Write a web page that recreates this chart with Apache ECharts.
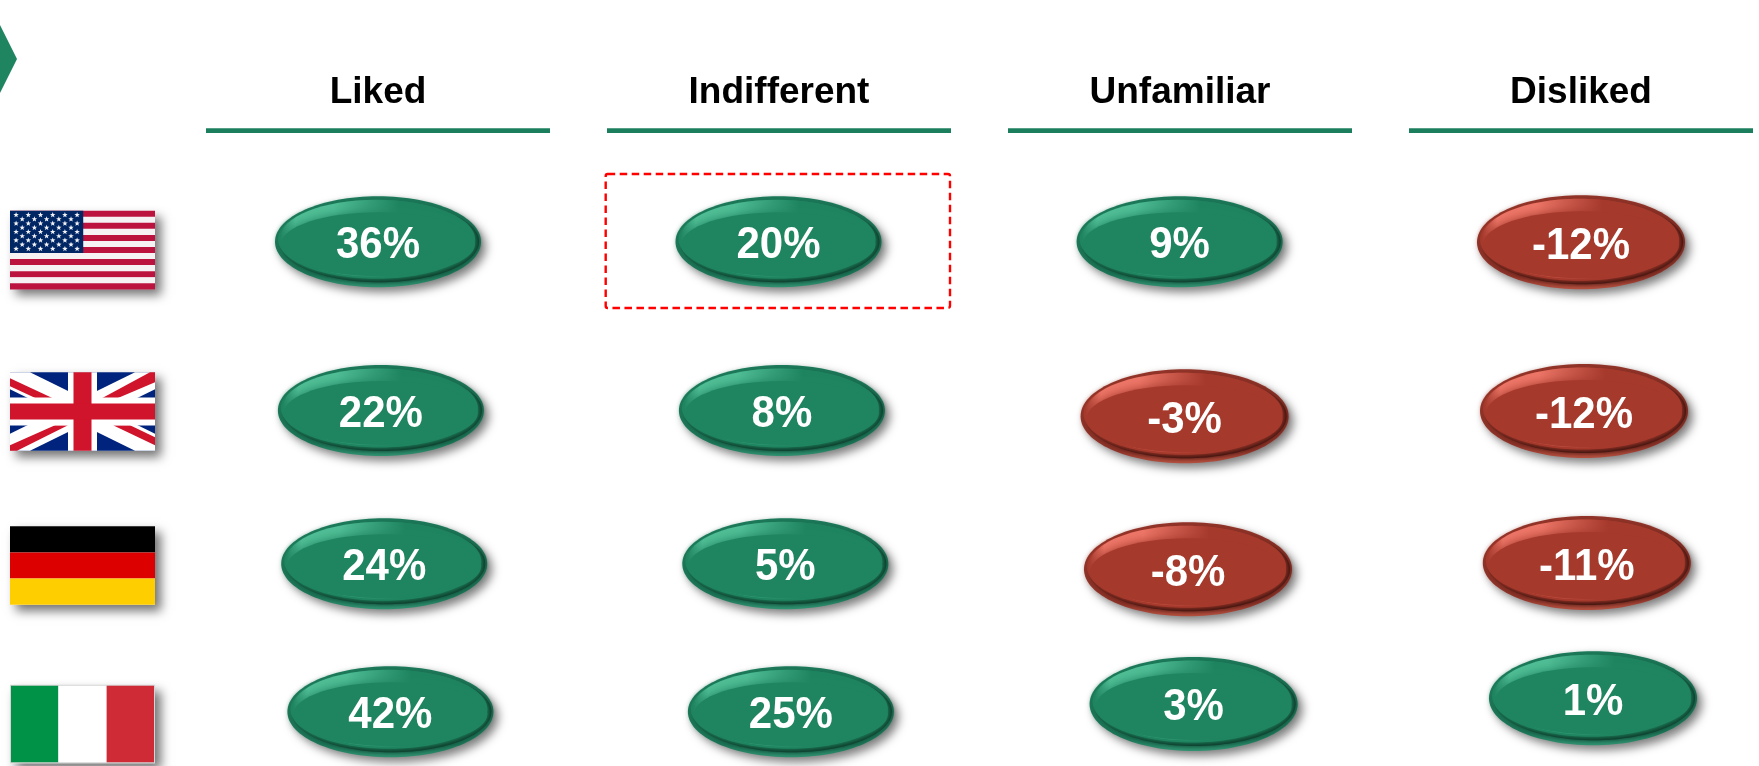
<!DOCTYPE html>
<html>
<head>
<meta charset="utf-8">
<style>html,body{margin:0;padding:0;background:#fff}#chart{width:1759px;height:766px}</style>
<script src="https://cdn.jsdelivr.net/npm/echarts@6/dist/echarts.min.js"></script>
</head>
<body>
<div id="chart"></div>
<script>
// Survey outcome per country, in percentage points
const attitudes = ['Liked', 'Indifferent', 'Unfamiliar', 'Disliked'];
const countries = ['United States', 'United Kingdom', 'Germany', 'Italy'];
const liked = [36, 22, 24, 42];
const indifferent = [20, 8, 5, 25];
const unfamiliar = [9, -3, -8, 3];
const disliked = [-12, -12, -11, 1];
const highlightedCell = ['Indifferent', 'United States'];

// Hand placement of each badge relative to its grid cell, in pixels [dx, dy]
const cellNudges = [
  [[0, 0], [2.9, 12.2], [6.2, 8.6], [12.4, 0]],
  [[-0.5, 0], [2.9, 12.2], [6.3, 8.6], [11.9, 0]],
  [[-0.4, 0], [4.6, 17.8], [8, 14.2], [13.6, -7.9]],
  [[0, 0.6], [3, 12.7], [5.8, 8], [12, -13.5]]
];
const flagNudges = [8.3, 13.1, 10.4, 12.2];

const GREEN = {
  face: '#1f8560', lip: '#2f9270', rim: '#1a7757', tone: '#1e8460', dark: '#0a3325', glow: '#4fbd95'
};
const RED = {
  face: '#a5392c', lip: '#b5503f', rim: '#8f3227', tone: '#a5392c', dark: '#340f0a', glow: '#ec7566'
};

const columns = [liked, indifferent, unfamiliar, disliked];
const badgeData = [];
columns.forEach((values, c) => values.forEach((v, r) => badgeData.push([c, r, v])));

function renderBadge(params, api) {
  const c = api.value(0), r = api.value(1), v = api.value(2);
  const base = api.coord([c, r]);
  const n = cellNudges[c][r];
  const negative = v < 0;
  const pal = v >= 0 ? GREEN : RED;
  // The lower badges in the right-hand columns are drawn a little larger
  const big = negative || (r === 3 && c >= 2);
  const rx = big ? 104 : 103;
  const ry = big ? 47 : 45.5;
  return {
    type: 'group',
    x: base[0] + n[0], y: base[1] + n[1],
    children: [
      // outer body, light lip at the foot, and the cast shadow
      { type: 'ellipse', shape: { cx: 0, cy: 0, rx, ry },
        style: { fill: { type: 'linear', x: 0, y: 0, x2: 0, y2: 1, colorStops: [
          { offset: 0, color: pal.rim }, { offset: 0.86, color: pal.rim }, { offset: 1, color: pal.lip }
        ] }, shadowColor: 'rgba(0,0,0,0.5)', shadowBlur: 10, shadowOffsetX: 5, shadowOffsetY: 5 } },
      // dark bevel, visible along the foot and right-hand end
      { type: 'ellipse', shape: { cx: 1, cy: 0, rx: rx - 3, ry: ry - 5 },
        style: { fill: pal.dark, shadowColor: pal.dark, shadowBlur: 4 } },
      // upper tone that hides the bevel on the top and left
      { type: 'ellipse', shape: { cx: -1.5, cy: -2.5, rx: rx - 4.5, ry: ry - 6 },
        style: { fill: pal.tone, shadowColor: pal.tone, shadowBlur: 5 } },
      // highlight along the upper left
      { type: 'ellipse', shape: { cx: -2, cy: -3.5, rx: rx - 7, ry: ry - 7 },
        style: { fill: { type: 'linear', x: 0, y: 0, x2: 1, y2: 0, colorStops: [
          { offset: 0, color: pal.tone }, { offset: 0.08, color: pal.glow }, { offset: 0.28, color: pal.glow }, { offset: 0.62, color: pal.tone }, { offset: 1, color: pal.tone }
        ] } } },
      // flat face
      { type: 'ellipse', shape: { cx: 0, cy: 2.5, rx: rx - 6, ry: ry - 13.5 },
        style: { fill: pal.face, shadowColor: pal.face, shadowBlur: 10 } },
      { type: 'text', x: 0, y: 4.5, scaleY: 1.04,
        style: { text: v + '%', x: 0, y: 0, align: 'center', verticalAlign: 'middle',
          fill: '#fff', font: 'bold 42px "Liberation Sans", Arial, sans-serif' } }
    ]
  };
}

function starPoints(cx, cy, R) {
  const pts = [];
  for (let i = 0; i < 10; i++) {
    const rad = i % 2 ? R * 0.42 : R;
    const a = -Math.PI / 2 + i * Math.PI / 5;
    pts.push([cx + rad * Math.cos(a), cy + rad * Math.sin(a)]);
  }
  return pts;
}
const rect = (x, y, w, h, fill) => ({ type: 'rect', shape: { x, y, width: w, height: h }, style: { fill } });
const poly = (points, fill) => ({ type: 'polygon', shape: { points }, style: { fill } });

function usFlag(w, h) {
  const out = [];
  const sh = h / 13;
  for (let i = 0; i < 13; i++) out.push(rect(0, i * sh, w, sh + 0.3, i % 2 ? '#f6f2f4' : '#bb133e'));
  const cw = w * 0.505, ch = sh * 7;
  out.push(rect(0, 0, cw, ch, '#002664'));
  for (let row = 0; row < 9; row++) {
    const count = row % 2 ? 5 : 6;
    for (let k = 0; k < count; k++) {
      const x = cw * ((row % 2 ? 2 : 1) + 2 * k) / 12;
      const y = ch * (row + 1) / 10;
      out.push(poly(starPoints(x, y, 2.9), '#f2f2f4'));
    }
  }
  return out;
}
function ukFlag(w, h) {
  const tx = 20, ty = 17;
  const red = '#cf142b';
  return [
    rect(0, 0, w, h, '#00247d'),
    poly([[0, 0], [tx, 0], [w, h - ty], [w, h], [w - tx, h], [0, ty]], '#fff'),
    poly([[w, 0], [w, ty], [tx, h], [0, h], [0, h - ty], [w - tx, 0]], '#fff'),
    poly([[0, 6], [45, 27], [28, 27], [0, 14]], red),
    poly([[w - 5, 0], [w, 0], [w, 10], [105, 27], [90, 27]], red),
    poly([[103, 53], [120, 53], [w, 65], [w, 73]], red),
    poly([[45, 53], [58, 53], [7, h], [0, h], [0, 73]], red),
    rect(w * 0.5 - 14.5, 0, 29, h, '#fff'),
    rect(0, h * 0.5 - 14, w, 28, '#fff'),
    rect(w * 0.5 - 9, 0, 18, h, red),
    rect(0, h * 0.5 - 8, w, 16, red)
  ];
}
function deFlag(w, h) {
  return [rect(0, 0, w, h / 3, '#000'), rect(0, h / 3, w, h / 3, '#dd0000'), rect(0, 2 * h / 3, w, h / 3, '#ffce00')];
}
function itFlag(w, h) {
  return [
    rect(0, 0, w, h, '#d4d4d4'),
    rect(1, 1, w / 3 - 1, h - 2, '#009246'),
    rect(w / 3, 1, w / 3, h - 2, '#ffffff'),
    rect(2 * w / 3, 1, w / 3 - 1, h - 2, '#ce2b37')
  ];
}
const flagPainters = [usFlag, ukFlag, deFlag, itFlag];

function renderFlag(params, api) {
  const r = api.value(0);
  const cy = api.coord([0, r])[1] + flagNudges[r];
  const w = 145, h = 78.5;
  return {
    type: 'group', x: 10, y: cy - h / 2,
    children: [
      { type: 'rect', shape: { x: 0, y: 0, width: w, height: h },
        style: { fill: '#fff', shadowColor: 'rgba(0,0,0,0.55)', shadowBlur: 10, shadowOffsetX: 6, shadowOffsetY: 6 } }
    ].concat(flagPainters[r](w, h))
  };
}

function renderHeaderRule(params, api) {
  const cx = api.coord([api.value(0), 0])[0];
  return { type: 'rect', shape: { x: cx - 172, y: 128.3, width: 344, height: 4.6 }, style: { fill: '#1b7f5e' } };
}

function renderHighlight(params, api) {
  const c = api.coord([api.value(0), api.value(1)]);
  return { type: 'rect', shape: { x: c[0] - 173.3, y: c[1] - 67.7, width: 344.3, height: 134, r: 2 },
    style: { fill: 'none', stroke: '#ff0000', lineWidth: 2.4, lineDash: [7.5, 4.5] } };
}

const chart = echarts.init(document.getElementById('chart'), null, { renderer: 'canvas' });
chart.setOption({
  animation: false,
  backgroundColor: '#fff',
  grid: { left: 177.5, top: 163.35, width: 1604, height: 626.8, outerBoundsMode: 'none' },
  xAxis: {
    type: 'category', position: 'top', data: attitudes,
    axisLine: { show: false }, axisTick: { show: false }, splitLine: { show: false },
    axisLabel: { margin: 52, color: '#000', fontSize: 37, fontWeight: 'bold', fontFamily: '"Liberation Sans", Arial, sans-serif', interval: 0 }
  },
  yAxis: {
    type: 'category', inverse: true, data: countries,
    axisLine: { show: false }, axisTick: { show: false }, axisLabel: { show: false }, splitLine: { show: false }
  },
  graphic: [{
    type: 'polygon', silent: true,
    shape: { points: [[-20, 25], [0, 25], [17, 59], [0, 93], [-20, 93]] },
    style: { fill: '#1e8560' }
  }],
  series: [
    { type: 'custom', name: 'rules', renderItem: renderHeaderRule, data: attitudes.map((a, i) => [i]), encode: { x: 0 }, clip: false, silent: true },
    { type: 'custom', name: 'flags', renderItem: renderFlag, data: countries.map((a, i) => [i]), encode: { y: 0 }, clip: false, silent: true },
    { type: 'custom', name: 'highlight', renderItem: renderHighlight,
      data: [[attitudes.indexOf(highlightedCell[0]), countries.indexOf(highlightedCell[1])]], encode: { x: 0, y: 1 }, clip: false, silent: true },
    { type: 'custom', name: 'badges', renderItem: renderBadge, data: badgeData, encode: { x: 0, y: 1 }, clip: false, silent: true }
  ]
});
</script>
</body>
</html>
